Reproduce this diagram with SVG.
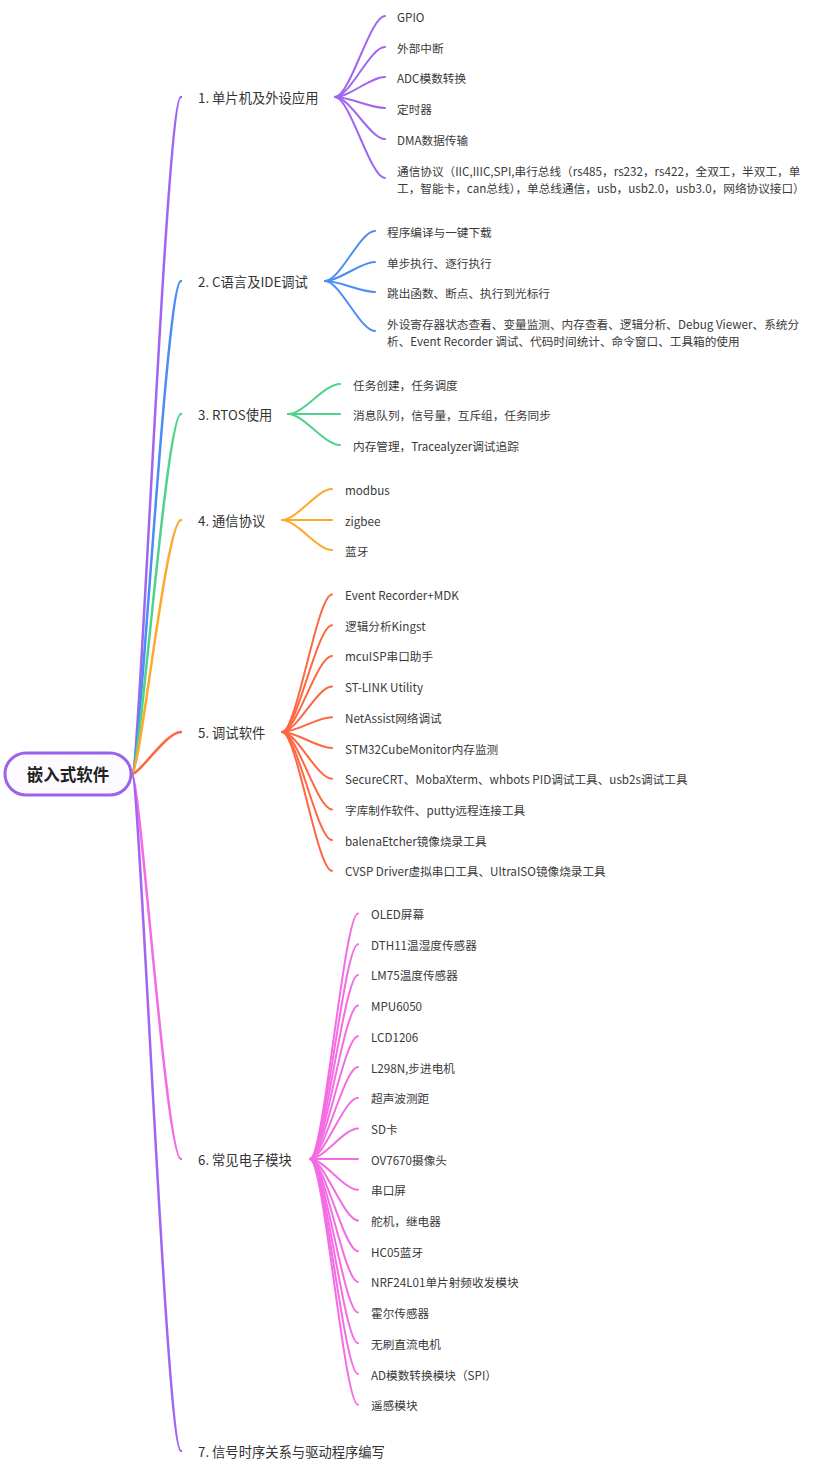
<svg xmlns="http://www.w3.org/2000/svg" width="828" height="1473" viewBox="0 0 828 1473">
<style>
text{font-family:"Noto Sans CJK SC","Noto Sans",sans-serif;dominant-baseline:central}
.lbl{font-size:13.3px;fill:#333}
.ch{font-size:11.65px;fill:#3a3a3a}
.root{font-size:16.5px;font-weight:bold;fill:#222}
path{fill:none;stroke-linecap:round}
.m{stroke-width:2.5}
.c{stroke-width:2}
.pu{stroke:#a066f2}.bl{stroke:#4b8cf7}.gr{stroke:#4fd38c}.or{stroke:#fca92e}.rd{stroke:#fd6742}.pk{stroke:#f56be3}
</style>
<rect width="828" height="1473" fill="#ffffff"/>
<g id="connectors">
<path class="m pu" d="M132,774 C140,774 166,97 181,97"/>
<path class="m bl" d="M132,774 C140,774 166,281 181,281"/>
<path class="m gr" d="M132,774 C140,774 166,414 181,414"/>
<path class="m or" d="M132,774 C140,774 166,520 181,520"/>
<path class="m rd" d="M132,774 C140,774 166,732 181,732"/>
<path class="m pk" d="M132,774 C140,774 166,1159 181,1159"/>
<path class="m pu" d="M132,774 C140,774 166,1451 181,1451"/>
<g class="c pu">
<path d="M335,97 C350,97 370,16 385,16"/>
<path d="M335,97 C350,97 370,47 385,47"/>
<path d="M335,97 C350,97 370,77 385,77"/>
<path d="M335,97 C350,97 370,108 385,108"/>
<path d="M335,97 C350,97 370,139 385,139"/>
<path d="M335,97 C350,97 370,178 385,178"/>
</g>
<g class="c bl">
<path d="M325,281 C340,281 360,231 375,231"/>
<path d="M325,281 C340,281 360,262 375,262"/>
<path d="M325,281 C340,281 360,292 375,292"/>
<path d="M325,281 C340,281 360,331 375,331"/>
</g>
<g class="c gr">
<path d="M288,414 C304,414 324,384 340,384"/>
<path d="M288,414 L340,414"/>
<path d="M288,414 C304,414 324,445 340,445"/>
</g>
<g class="c or">
<path d="M282,520 C297,520 317,489 332,489"/>
<path d="M282,520 L332,520"/>
<path d="M282,520 C297,520 317,550 332,550"/>
</g>
<g class="c rd">
<path d="M282,732 C297,732 317,594.5 332,594.5"/>
<path d="M282,732 C297,732 317,625.2 332,625.2"/>
<path d="M282,732 C297,732 317,655.9 332,655.9"/>
<path d="M282,732 C297,732 317,686.6 332,686.6"/>
<path d="M282,732 C297,732 317,717.3 332,717.3"/>
<path d="M282,732 C297,732 317,748 332,748"/>
<path d="M282,732 C297,732 317,778.7 332,778.7"/>
<path d="M282,732 C297,732 317,809.4 332,809.4"/>
<path d="M282,732 C297,732 317,840.1 332,840.1"/>
<path d="M282,732 C297,732 317,870.8 332,870.8"/>
</g>
<g class="c pk">
<path d="M310,1159 C324,1159 344,913.5 358,913.5"/>
<path d="M310,1159 C324,1159 344,944.2 358,944.2"/>
<path d="M310,1159 C324,1159 344,974.9 358,974.9"/>
<path d="M310,1159 C324,1159 344,1005.6 358,1005.6"/>
<path d="M310,1159 C324,1159 344,1036.3 358,1036.3"/>
<path d="M310,1159 C324,1159 344,1067 358,1067"/>
<path d="M310,1159 C324,1159 344,1097.7 358,1097.7"/>
<path d="M310,1159 C324,1159 344,1128.4 358,1128.4"/>
<path d="M310,1159 C324,1159 344,1159.1 358,1159.1"/>
<path d="M310,1159 C324,1159 344,1189.8 358,1189.8"/>
<path d="M310,1159 C324,1159 344,1220.5 358,1220.5"/>
<path d="M310,1159 C324,1159 344,1251.2 358,1251.2"/>
<path d="M310,1159 C324,1159 344,1281.9 358,1281.9"/>
<path d="M310,1159 C324,1159 344,1312.6 358,1312.6"/>
<path d="M310,1159 C324,1159 344,1343.3 358,1343.3"/>
<path d="M310,1159 C324,1159 344,1374 358,1374"/>
<path d="M310,1159 C324,1159 344,1404.7 358,1404.7"/>
</g>
</g>
<g id="root">
<rect x="5" y="753" width="126" height="42" rx="21" fill="#fcfbff" stroke="#9c62ee" stroke-width="3"/>
<text class="root" x="68" y="774" text-anchor="middle">嵌入式软件</text>
</g>
<g id="b1"><text class="lbl" x="198" y="97">1. 单片机及外设应用</text></g>
<g id="b1-1"><text class="ch" x="397" y="16">GPIO</text></g>
<g id="b1-2"><text class="ch" x="397" y="47">外部中断</text></g>
<g id="b1-3"><text class="ch" x="397" y="77">ADC模数转换</text></g>
<g id="b1-4"><text class="ch" x="397" y="108">定时器</text></g>
<g id="b1-5"><text class="ch" x="397" y="139">DMA数据传输</text></g>
<g id="b1-6"><text class="ch" x="397" y="170">通信协议（IIC,IIIC,SPI,串行总线（rs485，rs232，rs422，全双工，半双工，单</text><text class="ch" x="397" y="187">工，智能卡，can总线），单总线通信，usb，usb2.0，usb3.0，网络协议接口）</text></g>
<g id="b2"><text class="lbl" x="198" y="281">2. C语言及IDE调试</text></g>
<g id="b2-1"><text class="ch" x="387" y="231">程序编译与一键下载</text></g>
<g id="b2-2"><text class="ch" x="387" y="262">单步执行、逐行执行</text></g>
<g id="b2-3"><text class="ch" x="387" y="292">跳出函数、断点、执行到光标行</text></g>
<g id="b2-4"><text class="ch" x="387" y="323">外设寄存器状态查看、变量监测、内存查看、逻辑分析、Debug Viewer、系统分</text><text class="ch" x="387" y="340">析、Event Recorder 调试、代码时间统计、命令窗口、工具箱的使用</text></g>
<g id="b3"><text class="lbl" x="198" y="414">3. RTOS使用</text></g>
<g id="b3-1"><text class="ch" x="353" y="384">任务创建，任务调度</text></g>
<g id="b3-2"><text class="ch" x="353" y="414">消息队列，信号量，互斥组，任务同步</text></g>
<g id="b3-3"><text class="ch" x="353" y="445">内存管理，Tracealyzer调试追踪</text></g>
<g id="b4"><text class="lbl" x="198" y="520">4. 通信协议</text></g>
<g id="b4-1"><text class="ch" x="345" y="489">modbus</text></g>
<g id="b4-2"><text class="ch" x="345" y="520">zigbee</text></g>
<g id="b4-3"><text class="ch" x="345" y="550">蓝牙</text></g>
<g id="b5"><text class="lbl" x="198" y="732">5. 调试软件</text></g>
<g id="b5-1"><text class="ch" x="345" y="594.5">Event Recorder+MDK</text></g>
<g id="b5-2"><text class="ch" x="345" y="625.2">逻辑分析Kingst</text></g>
<g id="b5-3"><text class="ch" x="345" y="655.9">mcuISP串口助手</text></g>
<g id="b5-4"><text class="ch" x="345" y="686.6">ST-LINK Utility</text></g>
<g id="b5-5"><text class="ch" x="345" y="717.3">NetAssist网络调试</text></g>
<g id="b5-6"><text class="ch" x="345" y="748">STM32CubeMonitor内存监测</text></g>
<g id="b5-7"><text class="ch" x="345" y="778.7">SecureCRT、MobaXterm、whbots PID调试工具、usb2s调试工具</text></g>
<g id="b5-8"><text class="ch" x="345" y="809.4">字库制作软件、putty远程连接工具</text></g>
<g id="b5-9"><text class="ch" x="345" y="840.1">balenaEtcher镜像烧录工具</text></g>
<g id="b5-10"><text class="ch" x="345" y="870.8">CVSP Driver虚拟串口工具、UltraISO镜像烧录工具</text></g>
<g id="b6"><text class="lbl" x="198" y="1159">6. 常见电子模块</text></g>
<g id="b6-1"><text class="ch" x="371" y="913.5">OLED屏幕</text></g>
<g id="b6-2"><text class="ch" x="371" y="944.2">DTH11温湿度传感器</text></g>
<g id="b6-3"><text class="ch" x="371" y="974.9">LM75温度传感器</text></g>
<g id="b6-4"><text class="ch" x="371" y="1005.6">MPU6050</text></g>
<g id="b6-5"><text class="ch" x="371" y="1036.3">LCD1206</text></g>
<g id="b6-6"><text class="ch" x="371" y="1067">L298N,步进电机</text></g>
<g id="b6-7"><text class="ch" x="371" y="1097.7">超声波测距</text></g>
<g id="b6-8"><text class="ch" x="371" y="1128.4">SD卡</text></g>
<g id="b6-9"><text class="ch" x="371" y="1159.1">OV7670摄像头</text></g>
<g id="b6-10"><text class="ch" x="371" y="1189.8">串口屏</text></g>
<g id="b6-11"><text class="ch" x="371" y="1220.5">舵机，继电器</text></g>
<g id="b6-12"><text class="ch" x="371" y="1251.2">HC05蓝牙</text></g>
<g id="b6-13"><text class="ch" x="371" y="1281.9">NRF24L01单片射频收发模块</text></g>
<g id="b6-14"><text class="ch" x="371" y="1312.6">霍尔传感器</text></g>
<g id="b6-15"><text class="ch" x="371" y="1343.3">无刷直流电机</text></g>
<g id="b6-16"><text class="ch" x="371" y="1374">AD模数转换模块（SPI）</text></g>
<g id="b6-17"><text class="ch" x="371" y="1404.7">遥感模块</text></g>
<g id="b7"><text class="lbl" x="198" y="1451">7. 信号时序关系与驱动程序编写</text></g>
</svg>
